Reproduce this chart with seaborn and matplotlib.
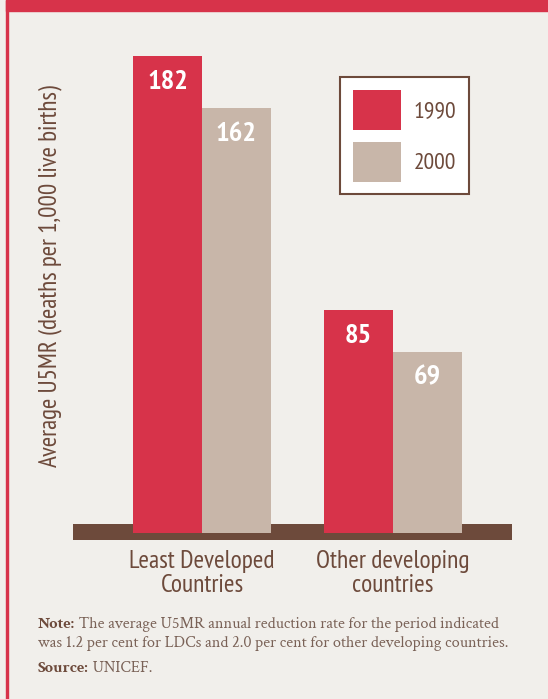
import numpy as np
import pandas as pd
import seaborn as sns
import matplotlib
matplotlib.use("Agg")
import matplotlib.pyplot as plt
import matplotlib.font_manager as fm
from matplotlib.patches import Rectangle

# --- data -------------------------------------------------------------
groups = ["Least Developed\nCountries", "Other developing\ncountries"]
years = ["1990", "2000"]
u5mr_1990 = [182, 85]
u5mr_2000 = [162, 69]

y_label = "Average U5MR (deaths per 1,000 live births)"
note_head = "Note:"
note_line1 = " The average U5MR annual reduction rate for the period indicated"
note_line2 = "was 1.2 per cent for LDCs and 2.0 per cent for other developing countries."
source_head = "Source:"
source_text = " UNICEF."

# --- style ------------------------------------------------------------
RED = "#d7334a"
BEIGE = "#c8b6a9"
BROWN = "#6d4a3b"
NOTE_GREY = "#7a6257"
BG = "#f1efeb"

COND = ["PT Sans Narrow", "Liberation Sans Narrow", "DejaVu Sans"]


def pick_serif():
    """First Garamond-like family that ships a real bold face."""
    for fam in ["EB Garamond", "Crimson Pro", "Crimson Text", "Cormorant Garamond"]:
        try:
            path = fm.findfont(fm.FontProperties(family=fam, weight="bold"),
                               fallback_to_default=False)
        except ValueError:
            continue
        ent = [f for f in fm.fontManager.ttflist if f.fname == path]
        if ent and ent[0].name == fam and (
                (isinstance(ent[0].weight, int) and ent[0].weight >= 600)
                or "bold" in str(ent[0].weight).lower()):
            return fam
    return "Liberation Serif"


SERIF = [pick_serif(), "Liberation Serif", "DejaVu Serif"]

W, H = 548, 699
fig = plt.figure(figsize=(W / 100, H / 100), dpi=100, facecolor=BG)

# page decoration: red header strip and thin red left rule
fig.patches.append(Rectangle((6 / W, 1 - 11 / H), 1, 11 / H,
                             transform=fig.transFigure, color=RED, zorder=0))
fig.patches.append(Rectangle((6 / W, 0), 1.6 / W, 1,
                             transform=fig.transFigure, color=RED, zorder=0))

# plotting area: spans the brown base strip horizontally
ax_left, ax_right, ax_top, ax_bottom = 73, 512, 40, 540
ax = fig.add_axes([ax_left / W, 1 - ax_bottom / H,
                   (ax_right - ax_left) / W, (ax_bottom - ax_top) / H])
ax.set_facecolor("none")

df = pd.DataFrame({
    "group": np.repeat(groups, len(years)),
    "year": years * len(groups),
    "u5mr": [v for pair in zip(u5mr_1990, u5mr_2000) for v in pair],
})

sns.barplot(data=df, x="group", y="u5mr", hue="year", hue_order=years,
            order=groups, palette={"1990": RED, "2000": BEIGE},
            width=0.7225, saturation=1, ax=ax, zorder=2, linewidth=0)

px_per_unit = 2.619
zero_px = 532.5
ax.set_ylim(-(ax_bottom - zero_px) / px_per_unit, (zero_px - ax_top) / px_per_unit)
group_px = 191.0
ax.set_xlim((ax_left - 202) / group_px, (ax_right - 202) / group_px)

# brown base strip behind the bars
ax.axhspan(ax.get_ylim()[0], (zero_px - 524) / px_per_unit, color=BROWN,
           zorder=1, linewidth=0)

# value labels inside the top of each bar
for container in ax.containers:
    for bar, val in zip(container, container.datavalues):
        ax.annotate(f"{val:.0f}", (bar.get_x() + bar.get_width() / 2, bar.get_height()),
                    xytext=(0, -14), textcoords="offset pixels",
                    ha="center", va="top", color="white", fontsize=20.5,
                    fontweight="bold", zorder=3, family=COND)

for s in ax.spines.values():
    s.set_visible(False)
ax.set_yticks([])
ax.set_xlabel("")
ax.tick_params(axis="x", length=0, pad=7, colors=BROWN)
for t in ax.get_xticklabels():
    t.set_fontsize(18.3)
    t.set_linespacing(1.05)
    t.set_fontfamily(COND)

ax.set_ylabel(y_label, color=BROWN, fontsize=18, va="center", family=COND)
ax.yaxis.set_label_coords((50 - ax_left) / (ax_right - ax_left),
                          (ax_bottom - 276) / (ax_bottom - ax_top))

# legend box
old = ax.get_legend()
handles = old.legend_handles
labels = [t.get_text() for t in old.get_texts()]
old.remove()
leg_fs = 17
fs_px = leg_fs * 100 / 72
patch_h, patch_w = 40, 48
leg = ax.legend(handles, labels, loc="upper left",
                bbox_to_anchor=(340 / W, 1 - 77 / H), bbox_transform=fig.transFigure,
                borderaxespad=0, prop=dict(size=leg_fs, family=COND),
                handlelength=patch_w / fs_px,
                handleheight=(patch_h / fs_px - 0.245) / 0.65,
                labelspacing=12 / fs_px, borderpad=12.5 / fs_px, handletextpad=13 / fs_px,
                fancybox=False, frameon=True, framealpha=1)
leg.get_frame().set_edgecolor(BROWN)
leg.get_frame().set_linewidth(1.5)
leg.get_frame().set_facecolor("white")
for t in leg.get_texts():
    t.set_color(BROWN)

# footnote
renderer = fig.canvas.get_renderer()
NOTE_FS = 11.7
def head_and_body(x, y, head, body):
    h = fig.text(x / W, 1 - y / H, head, fontsize=NOTE_FS, fontweight="bold",
                 color=BROWN, va="baseline", ha="left", family=SERIF)
    bb = h.get_window_extent(renderer)
    fig.text(bb.x1 / W, 1 - y / H, body, fontsize=NOTE_FS, color=NOTE_GREY,
             va="baseline", ha="left", family=SERIF)

head_and_body(38, 628, note_head, note_line1)
fig.text(38 / W, 1 - 647 / H, note_line2, fontsize=NOTE_FS, color=NOTE_GREY,
         va="baseline", ha="left", family=SERIF)
head_and_body(38, 672, source_head, source_text)

fig.savefig("out.png", dpi=100, facecolor=BG)
